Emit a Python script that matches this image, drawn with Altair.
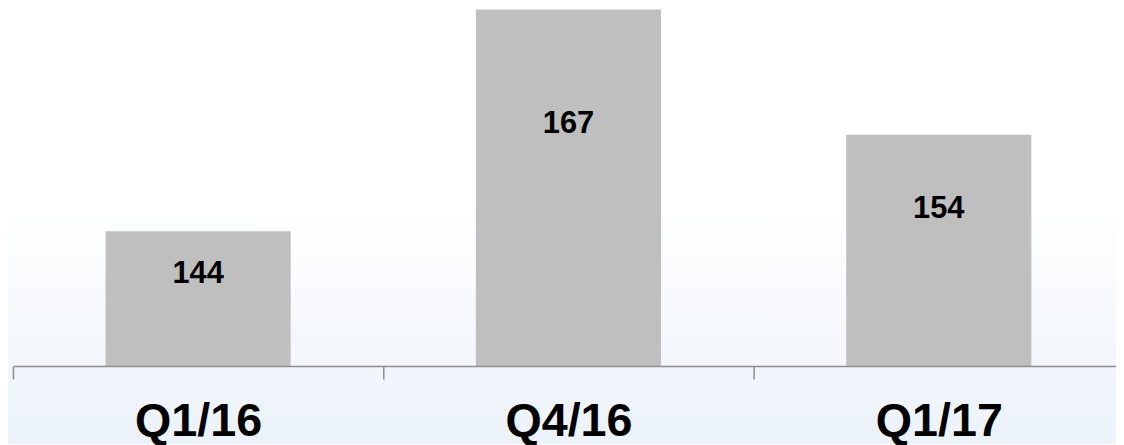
import altair as alt
import pandas as pd

categories = ["Q1/16", "Q4/16", "Q1/17"]
values = [144, 167, 154]

Y_MIN = 130
Y_MAX = 167

df = pd.DataFrame({"cat": categories, "value": values})

W = 1111
H = 359

x_scale = alt.Scale(domain=categories, paddingInner=0, paddingOuter=0, rangeMax=1119)
y_scale = alt.Scale(domain=[Y_MIN, Y_MAX], zero=False, nice=False)

bg = alt.Chart(df).mark_rect(
    fill=alt.LinearGradient(
        gradient="linear", x1=0, y1=0, x2=0, y2=1,
        stops=[alt.GradientStop(color="#ffffff", offset=0),
               alt.GradientStop(color="#ffffff", offset=0.45),
               alt.GradientStop(color="#ecf2fa", offset=1)]
    ),
    clip=False,
).encode(x=alt.value(-5), x2=alt.value(1120), y=alt.value(0), y2=alt.value(437))

bars = alt.Chart(df).mark_bar(color="#bfbfbf", width=alt.RelativeBandSize(0.5)).encode(
    x=alt.X("cat:N", sort=categories, scale=x_scale,
            axis=alt.Axis(title=None, tickBand="extent", labelAngle=0, zindex=1,
                          labelFont="Liberation Sans", labelFontSize=47, labelFontWeight="bold",
                          labelColor="#000000", labelPadding=20, labelBaseline="top",
                          domainColor="#8c8c8c", tickColor="#8c8c8c", tickSize=13,
                          domainWidth=1.5, tickWidth=1.5, grid=False)),
    y=alt.Y("value:Q", scale=y_scale, axis=None),
    y2=alt.Y2(datum=Y_MIN),
)

labels = alt.Chart(df).transform_calculate(
    lpos=f"datum.value - 0.32 * (datum.value - {Y_MIN})"
).mark_text(font="Liberation Sans", fontSize=31, fontWeight="bold", color="#000000",
            baseline="middle", align="center").encode(
    x=alt.X("cat:N", sort=categories),
    y=alt.Y("lpos:Q"),
    text=alt.Text("value:Q"),
)

chart = alt.layer(bg, bars, labels).properties(
    width=W, height=H,
    autosize=alt.AutoSizeParams(type="none"),
    padding={"left": 5, "top": 0, "right": 0, "bottom": 78},
    background="#ffffff",
).configure_view(stroke=None)

chart.save("out.html", embed_options={"renderer": "svg", "actions": False})
